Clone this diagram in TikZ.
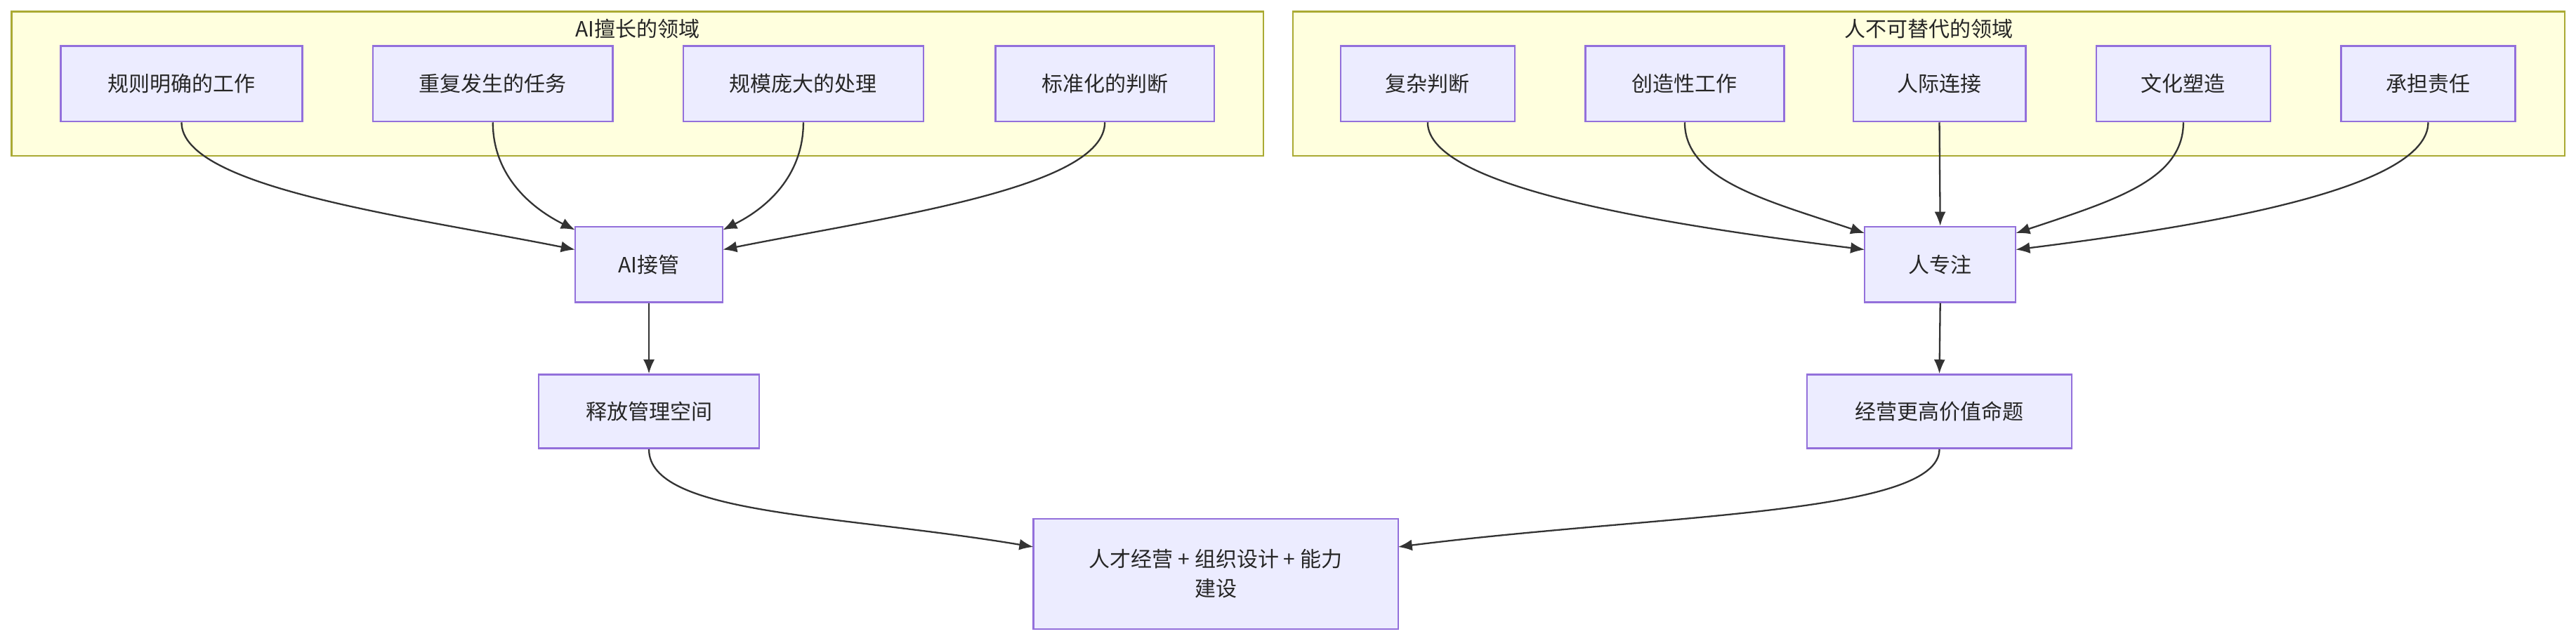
\documentclass[tikz,border=0pt]{standalone}
\usepackage{fontspec}
\setmainfont{Noto Sans CJK SC}
\usetikzlibrary{arrows.meta}
\definecolor{nfill}{HTML}{ECECFF}\definecolor{nline}{HTML}{9370DB}
\definecolor{cfill}{HTML}{FFFFDE}\definecolor{cline}{HTML}{AAAA33}
\definecolor{eline}{HTML}{333333}
\begin{document}
\begin{tikzpicture}[x=2.339pt,y=-2.339pt,
  nd/.style={draw=nline,fill=nfill,line width=2.3pt,inner sep=0pt,align=center,font=\fontsize{30}{42}\selectfont,text=black!85},
  cl/.style={draw=cline,fill=cfill,line width=2.3pt},
  ttl/.style={font=\fontsize{30}{36}\selectfont,text=black!85},
  ed/.style={draw=eline,line width=2.3pt,-{Latex[length=20pt,width=16pt]}}]
\useasboundingbox (0,0) rectangle (1568,390);
\newcommand\nd[6]{\node[nd,minimum width=#4*2.339pt,minimum height=#5*2.339pt] (#1) at (#2,#3) {#6};}
\path[cl] (7,7) rectangle (769,95);
\node[ttl] (t1) at (388,17.5) {AI擅长的领域};
\path[cl] (787,7) rectangle (1561,95);
\node[ttl] (t2) at (1174,17.5) {人不可替代的领域};
\nd{a1}{110.5}{51}{147}{46}{规则明确的工作}
\nd{a2}{300}{51}{146}{46}{重复发生的任务}
\nd{a3}{489}{51}{146}{46}{规模庞大的处理}
\nd{a4}{672.5}{51}{133}{46}{标准化的判断}
\nd{b1}{869}{51}{106}{46}{复杂判断}
\nd{b2}{1025.5}{51}{121}{46}{创造性工作}
\nd{b3}{1180.5}{51}{105}{46}{人际连接}
\nd{b4}{1329}{51}{106}{46}{文化塑造}
\nd{b5}{1478}{51}{106}{46}{承担责任}
\nd{ai}{395}{161}{90}{46}{AI接管}
\nd{hu}{1181}{161}{92}{46}{人专注}
\nd{fr}{395}{250.5}{134}{45}{释放管理空间}
\nd{jy}{1180.5}{250.5}{161}{45}{经营更高价值命题}
\nd{bt}{740}{349.5}{222}{67}{人才经营 + 组织设计 + 能力\\建设}
\coordinate (aiw) at (350,152); \coordinate (ainw) at (350,140);
\coordinate (aine) at (440,140); \coordinate (aie) at (440,152);
\coordinate (huw) at (1135,152); \coordinate (hunw) at (1135,142);
\coordinate (hune) at (1227,142); \coordinate (hue) at (1227,152);
\coordinate (btw) at (629,333); \coordinate (bte) at (851,333);
\draw[ed] (a1.south) .. controls +(0,40) and +(-100,-20) .. (aiw);
\draw[ed] (a2.south) .. controls +(0,30) and +(-30,-15) .. (ainw);
\draw[ed] (a3.south) .. controls +(0,30) and +(30,-15) .. (aine);
\draw[ed] (a4.south) .. controls +(0,40) and +(100,-20) .. (aie);
\draw[ed] (b1.south) .. controls +(0,40) and +(-120,-15) .. (huw);
\draw[ed] (b2.south) .. controls +(0,35) and +(-60,-20) .. (hunw);
\draw[ed] (b3.south) -- (hu.north);
\draw[ed] (b4.south) .. controls +(0,35) and +(60,-20) .. (hune);
\draw[ed] (b5.south) .. controls +(0,40) and +(120,-15) .. (hue);
\draw[ed] (ai.south) -- (fr.north);
\draw[ed] (hu.south) -- (jy.north);
\draw[ed] (fr.south) .. controls +(0,40) and +(-120,-20) .. (btw);
\draw[ed] (jy.south) .. controls +(0,40) and +(160,-20) .. (bte);
\end{tikzpicture}
\end{document}
